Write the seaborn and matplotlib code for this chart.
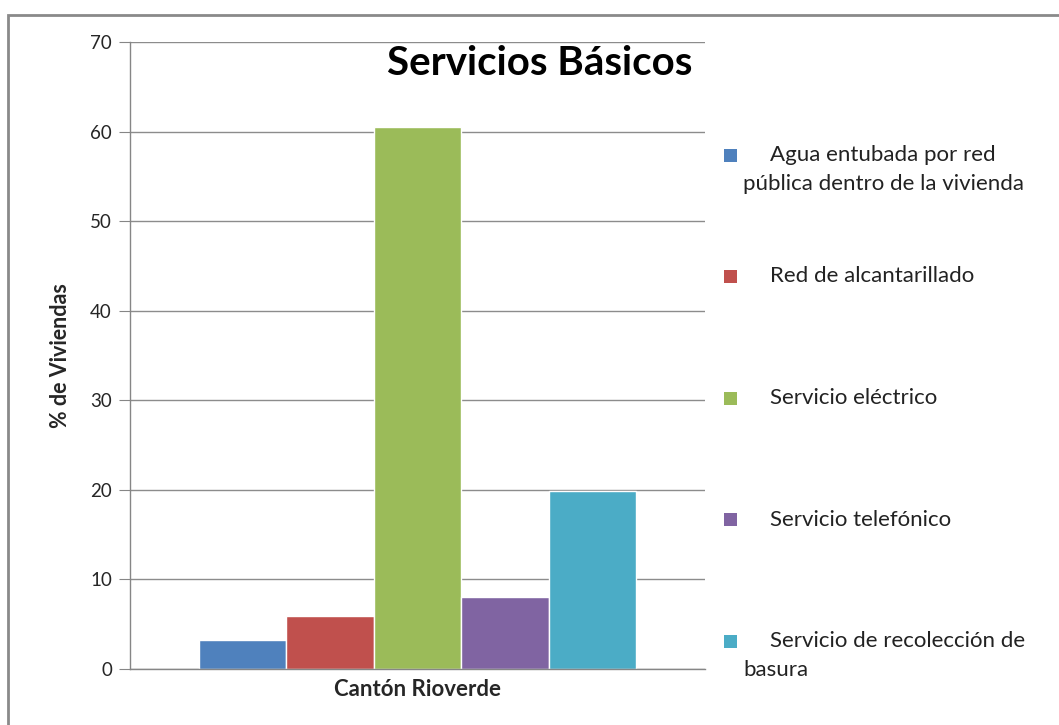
import pandas as pd
import numpy as np
import seaborn as sns
import matplotlib.pyplot as plt
from matplotlib.patches import Rectangle

group = ["Cantón Rioverde"]
services = ["Agua entubada por red pública dentro de la vivienda",
            "Red de alcantarillado",
            "Servicio eléctrico",
            "Servicio telefónico",
            "Servicio de recolección de basura"]
values = [3.2, 5.9, 60.5, 8.0, 19.9]
colors = ["#4F81BD", "#C0504D", "#9BBB59", "#8064A2", "#4BACC6"]

# legend text split as in the original (first line, wrapped rest)
legend_first = ["Agua entubada por red", "Red de alcantarillado", "Servicio eléctrico",
                "Servicio telefónico", "Servicio de recolección de"]
legend_rest = ["pública dentro de la vivienda", "", "", "", "basura"]

df = pd.DataFrame({"Grupo": group * len(services), "Servicio": services, "Valor": values})

sns.set_style("white")
plt.rcParams['font.family'] = ['Lato', 'DejaVu Sans']

W, H = 1059, 725
fig = plt.figure(figsize=(W / 100, H / 100), dpi=100)
ax = fig.add_axes([130 / W, 1 - 669 / H, 575 / W, 627 / H])

sns.barplot(data=df, x="Grupo", y="Valor", hue="Servicio", palette=colors,
            width=0.76, saturation=1, ax=ax, legend=False)

ax.set_ylim(0, 70)
ax.set_xlim(-0.5, 0.5)
ax.set_yticks(np.arange(0, 71, 10))
ax.yaxis.grid(True, color="#8c8c8c", linewidth=1)
ax.set_axisbelow(True)
for s in ["top", "right"]:
    ax.spines[s].set_visible(False)
for s in ["left", "bottom"]:
    ax.spines[s].set_color("#868686")
    ax.spines[s].set_linewidth(1)
ax.tick_params(axis="y", direction="out", length=8, color="#868686", labelsize=13.5, pad=5, left=True)
ax.tick_params(axis="x", length=0, labelsize=16, pad=7)
for lbl in ax.get_xticklabels():
    lbl.set_fontweight("bold")
ax.set_xlabel("")
ax.set_ylabel("% de Viviendas", fontsize=15.5, fontweight="bold", labelpad=14)

ax.text(0.978, 0.965, "Servicios Básicos", transform=ax.transAxes, ha="right", va="center",
        fontsize=29, fontweight="bold", color="black")

# legend drawn by hand: square aligned with the first line of each label
y0, step, sq = 155, 121.5, 13
for i, (c, first, rest) in enumerate(zip(colors, legend_first, legend_rest)):
    yc = y0 + i * step
    fig.add_artist(Rectangle((724 / W, 1 - (yc + sq / 2) / H), sq / W, sq / H,
                             transform=fig.transFigure, facecolor=c, edgecolor="none"))
    fig.text(770 / W, 1 - yc / H, first, fontsize=16, va="center", ha="left", color="#222222")
    if rest:
        fig.text(743 / W, 1 - (yc + 29) / H, rest, fontsize=16, va="center", ha="left", color="#222222")

fig.add_artist(Rectangle((8 / W, -0.01), 1.0, 1 - 15 / H + 0.01,
                         transform=fig.transFigure, fill=False,
                         edgecolor="#8a8a8a", linewidth=2))

fig.savefig("out.png", dpi=100)
